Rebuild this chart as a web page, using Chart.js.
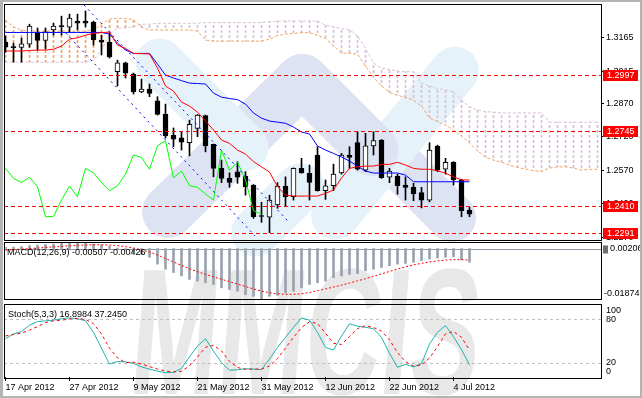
<!DOCTYPE html>
<html>
<head>
<meta charset="utf-8">
<script src="https://cdn.jsdelivr.net/npm/chart.js@4"></script>
<style>
  html, body { margin: 0; padding: 0; background: #fff; }
  #wrap { position: relative; width: 642px; height: 398px; overflow: hidden; background: #fff;
          font-family: "Liberation Sans", Arial, sans-serif; }
  canvas { position: absolute; left: 0; }
  .frame { position: absolute; box-sizing: border-box; border: 1px solid #000; }
  .band { position: absolute; }
  .lbl { position: absolute; font-size: 9px; line-height: 11px; color: #000; white-space: nowrap; }
  #logo { position: absolute; left: 140px; top: 242px; font: bold 180px "Liberation Sans", Arial, sans-serif;
          line-height: 180px; color: #e8e8e8; transform-origin: left top;
          transform: scaleX(0.58) skewX(-8deg); white-space: nowrap; }
  #edge { position: absolute; left: 0; top: 0; width: 642px; height: 398px; box-sizing: border-box;
          border: 2px solid #b4b4b4; border-left-width: 3px; }
</style>
</head>
<body>
<div id="wrap">
  <div id="logo">MMCIS</div>
  <canvas id="main" width="642" height="243" style="top:0"></canvas>
  <canvas id="macd" width="642" height="56" style="top:243px"></canvas>
  <canvas id="stoch" width="642" height="98" style="top:300px"></canvas>
  <div class="frame" style="left:4px;top:4px;width:598px;height:237px"></div>
  <div class="frame" style="left:4px;top:242px;width:598px;height:58px"></div>
  <div class="frame" style="left:4px;top:304px;width:598px;height:75px"></div>
  <div class="lbl" style="left:7px;top:247px">MACD(12,26,9) -0.00507 -0.00426</div>
  <div class="lbl" style="left:8px;top:309px">Stoch(5,3,3) 16.8984 37.2450</div>
  <div id="edge"></div>
</div>
<script>
// daily bars, 17 Apr 2012 .. 6 Jul 2012
const dates = ['17 Apr 2012', '27 Apr 2012', '9 May 2012', '21 May 2012', '31 May 2012', '12 Jun 2012', '22 Jun 2012', '4 Jul 2012'];
const dateBars = [0, 8, 16, 24, 32, 40, 48, 56];

const open = [1.3145, 1.3125, 1.3121, 1.3135, 1.3186, 1.3152, 1.3199, 1.3219, 1.3212, 1.3239,
  1.3239, 1.3234, 1.3154, 1.3145, 1.3012, 1.3052, 1.3001, 1.2922, 1.2934, 1.2882,
  1.2822, 1.2727, 1.2716, 1.2694, 1.2758, 1.2815, 1.2687, 1.2579, 1.2534, 1.2564,
  1.2544, 1.2504, 1.2367, 1.2360, 1.2415, 1.2500, 1.2452, 1.2579, 1.2557, 1.2639,
  1.2479, 1.2501, 1.2559, 1.2639, 1.2695, 1.2571, 1.2680, 1.2706, 1.2539, 1.2544,
  1.2504, 1.2494, 1.2471, 1.2437, 1.2679, 1.2575, 1.2607, 1.2527, 1.2392];
const high = [1.3172, 1.3140, 1.3163, 1.3225, 1.3208, 1.3208, 1.3230, 1.3261, 1.3270, 1.3270,
  1.3284, 1.3239, 1.3176, 1.3185, 1.3064, 1.3055, 1.3006, 1.2979, 1.2957, 1.2900,
  1.2867, 1.2760, 1.2743, 1.2795, 1.2820, 1.2818, 1.2688, 1.2616, 1.2559, 1.2609,
  1.2564, 1.2506, 1.2427, 1.2459, 1.2515, 1.2541, 1.2581, 1.2624, 1.2594, 1.2676,
  1.2527, 1.2598, 1.2646, 1.2676, 1.2743, 1.2736, 1.2743, 1.2708, 1.2579, 1.2553,
  1.2541, 1.2512, 1.2494, 1.2694, 1.2683, 1.2624, 1.2609, 1.2530, 1.2404];
const low = [1.3100, 1.3055, 1.3055, 1.3122, 1.3109, 1.3113, 1.3176, 1.3176, 1.3190, 1.3199,
  1.3212, 1.3131, 1.3087, 1.3073, 1.2948, 1.2984, 1.2912, 1.2918, 1.2900, 1.2818,
  1.2715, 1.2676, 1.2661, 1.2635, 1.2721, 1.2653, 1.2541, 1.2515, 1.2494, 1.2512,
  1.2459, 1.2355, 1.2337, 1.2291, 1.2400, 1.2407, 1.2437, 1.2557, 1.2437, 1.2477,
  1.2440, 1.2479, 1.2553, 1.2579, 1.2571, 1.2564, 1.2639, 1.2534, 1.2515, 1.2463,
  1.2437, 1.2434, 1.2402, 1.2429, 1.2564, 1.2553, 1.2504, 1.2362, 1.2362];
const close = [1.3122, 1.3120, 1.3137, 1.3217, 1.3152, 1.3191, 1.3217, 1.3214, 1.3252, 1.3230,
  1.3230, 1.3154, 1.3145, 1.3078, 1.3052, 1.3005, 1.2922, 1.2934, 1.2915, 1.2821,
  1.2725, 1.2710, 1.2696, 1.2776, 1.2818, 1.2680, 1.2579, 1.2534, 1.2516, 1.2539,
  1.2497, 1.2362, 1.2364, 1.2437, 1.2500, 1.2452, 1.2579, 1.2559, 1.2516, 1.2479,
  1.2501, 1.2553, 1.2639, 1.2628, 1.2575, 1.2680, 1.2703, 1.2537, 1.2567, 1.2501,
  1.2494, 1.2464, 1.2437, 1.2661, 1.2571, 1.2606, 1.2527, 1.2389, 1.2374];

// Ichimoku
const tenkan = [1.3105, 1.3105, 1.3105, 1.3107, 1.3109, 1.3109, 1.3113, 1.3127, 1.3158, 1.3164,
  1.3176, 1.3184, 1.3187, 1.3190, 1.3131, 1.3117, 1.3094, 1.3093, 1.3092, 1.3028,
  1.2948, 1.2925, 1.2876, 1.2858, 1.2831, 1.2791, 1.2751, 1.2706, 1.2691, 1.2661,
  1.2643, 1.2609, 1.2586, 1.2562, 1.2497, 1.2459, 1.2455, 1.2455, 1.2455, 1.2455,
  1.2467, 1.2482, 1.2536, 1.2579, 1.2586, 1.2589, 1.2589, 1.2597, 1.2597, 1.2606,
  1.2594, 1.2579, 1.2575, 1.2575, 1.2568, 1.2557, 1.2541, 1.2527, 1.2527];
const kijun = [1.3188, 1.3188, 1.3188, 1.3188, 1.3188, 1.3188, 1.3188, 1.3188, 1.3188, 1.3188,
  1.3188, 1.3188, 1.3188, 1.3181, 1.3140, 1.3109, 1.3094, 1.3094, 1.3094, 1.3046,
  1.2997, 1.2984, 1.2972, 1.2961, 1.2959, 1.2957, 1.2916, 1.2898, 1.2892, 1.2887,
  1.2867, 1.2827, 1.2804, 1.2791, 1.2786, 1.2781, 1.2764, 1.2742, 1.2733, 1.2679,
  1.2661, 1.2646, 1.2630, 1.2612, 1.2589, 1.2567, 1.2558, 1.2558, 1.2558, 1.2558,
  1.2549, 1.2519, 1.2519, 1.2519, 1.2519, 1.2519, 1.2519, 1.2519, 1.2519];
const spanA = [1.3243, 1.3212, 1.3199, 1.3194, 1.3194, 1.3194, 1.3194, 1.3194, 1.3194, 1.3194,
  1.3194, 1.3199, 1.3225, 1.3248, 1.3251, 1.3251, 1.3246, 1.3212, 1.3199, 1.3199,
  1.3199, 1.3199, 1.3199, 1.3199, 1.3194, 1.3154, 1.3149, 1.3149, 1.3149, 1.3149,
  1.3149, 1.3149, 1.3149, 1.3158, 1.3174, 1.3181, 1.3183, 1.3187, 1.3187, 1.3176,
  1.3161, 1.3127, 1.3096, 1.3094, 1.3091, 1.3037, 1.2988, 1.2948, 1.2919, 1.2907,
  1.2896, 1.2885, 1.2858, 1.2804, 1.2789, 1.2773, 1.2751, 1.2724, 1.2692, 1.2657,
  1.2630, 1.2616, 1.2607, 1.2594, 1.2583, 1.2576, 1.2569, 1.2565, 1.2580, 1.2586,
  1.2586, 1.2580, 1.2571, 1.2574, 1.2575];
const spanB = [1.3055, 1.3055, 1.3055, 1.3055, 1.3055, 1.3055, 1.3055, 1.3055, 1.3055, 1.3055,
  1.3055, 1.3064, 1.3109, 1.3181, 1.3208, 1.3208, 1.3212, 1.3225, 1.3225, 1.3229,
  1.3229, 1.3229, 1.3229, 1.3229, 1.3229, 1.3232, 1.3232, 1.3232, 1.3232, 1.3232,
  1.3232, 1.3232, 1.3232, 1.3236, 1.3239, 1.3239, 1.3239, 1.3239, 1.3239, 1.3239,
  1.3221, 1.3212, 1.3205, 1.3201, 1.3172, 1.3118, 1.3051, 1.3028, 1.3022, 1.3015,
  1.3012, 1.3012, 1.2961, 1.2948, 1.2937, 1.2930, 1.2922, 1.2885, 1.2855, 1.2840,
  1.2833, 1.2831, 1.2827, 1.2827, 1.2827, 1.2827, 1.2827, 1.2827, 1.2786, 1.2786,
  1.2786, 1.2786, 1.2786, 1.2786, 1.2786];

// drawn objects
const priceTicks = [1.3165, 1.3015, 1.2870, 1.2720, 1.2570, 1.2420, 1.2270];
const levels = [1.2997, 1.2745, 1.2410, 1.2291];
const channelLow = [{ x: 7.56, y: 1.3185 }, { x: 31.19, y: 1.2276 }];
const channelHigh = [{ x: 9.81, y: 1.3311 }, { x: 35.44, y: 1.2338 }];

// MACD(12,26,9)
const macdMain = [0.0004, 0.0005, 0.0007, 0.0011, 0.0013, 0.0015, 0.0017, 0.0019, 0.0020, 0.00206,
  0.0020, 0.0017, 0.0013, 0.0008, 0.0002, -0.0006, -0.0014, -0.0022, -0.00325, -0.00578,
  -0.00767, -0.00892, -0.01017, -0.01145, -0.01206, -0.0127, -0.01334, -0.01459, -0.01523, -0.01584,
  -0.01712, -0.01773, -0.01874, -0.01773, -0.01735, -0.01648, -0.01584, -0.01459, -0.01334, -0.0127,
  -0.01206, -0.01081, -0.01017, -0.00956, -0.0093, -0.00828, -0.00767, -0.00703, -0.00639, -0.00578,
  -0.00552, -0.00514, -0.0045, -0.00389, -0.00352, -0.00325, -0.0031, -0.0042, -0.00507];
const macdSignal = [-0.0006, -0.0004, -0.0002, 0.0000, 0.0002, 0.0004, 0.0006, 0.0008, 0.0010, 0.0012,
  0.0013, 0.0014, 0.0014, 0.0013, 0.0011, 0.0007, 0.0002, -0.0005, -0.0013, -0.0024,
  -0.0037, -0.0050, -0.0063, -0.0075, -0.0086, -0.0096, -0.0105, -0.0114, -0.0123, -0.0132,
  -0.0141, -0.0150, -0.0158, -0.0164, -0.0168, -0.0170, -0.0170, -0.0168, -0.0163, -0.0157,
  -0.0150, -0.0143, -0.0136, -0.0128, -0.0120, -0.0112, -0.0103, -0.0094, -0.0085, -0.0076,
  -0.0068, -0.0061, -0.0055, -0.0050, -0.0046, -0.0043, -0.0041, -0.0041, -0.00426];

// Stoch(5,3,3)
const stochMain = [53, 60, 63, 72, 77, 78, 79, 81, 82, 81,
  78, 62, 40, 18, 21.5, 21, 19, 14, 11, 8,
  6, 6.5, 12, 28, 43, 53, 36, 20, 9.5, 10,
  11.7, 11, 10.3, 25, 41, 55, 69, 82, 79, 62,
  41, 37.5, 57, 74, 70.5, 69, 67, 55, 33, 13.5,
  17.7, 14, 18.5, 46, 62, 71.5, 56, 38, 16.8984];
const stochSignal = [57, 59, 61, 65, 70, 75.5, 78, 79, 80.5, 81.5,
  80, 74, 60, 40, 26.5, 20, 20.5, 18, 14.5, 11,
  8.3, 7, 8, 15.5, 27.7, 41.3, 44, 36.3, 21.8, 13.2,
  10.4, 10.9, 11, 15.4, 25.4, 40.3, 55, 68.7, 76.7, 74.3,
  60.7, 46.8, 45.2, 56.2, 67.2, 71.2, 68.8, 63.7, 51.7, 33.8,
  21.4, 15.1, 16.7, 26.2, 42.2, 59.8, 63.2, 55.2, 37.245];
const stochLevels = [80, 20];

// watermark pieces: x1, y1, x2, y2, width, colour
const LV = '#dde3f2', LB = '#e6f2fa';
const bands = [
  [160, 62, 245, 147, 48, LB],
  [168, 212, 302, 80, 52, LV],
  [302, 80, 372, 150, 52, LV],
  [255, 232, 300, 187, 48, LB],
  [335, 215, 455, 70, 48, LB],
  [395, 160, 452, 217, 48, LV]
];
const wrap = document.getElementById('wrap');
bands.forEach(([x1, y1, x2, y2, w, col]) => {
  const len = Math.hypot(x2 - x1, y2 - y1) + w;
  const d = document.createElement('div');
  d.className = 'band';
  d.style.cssText = `left:${(x1 + x2) / 2 - len / 2}px;top:${(y1 + y2) / 2 - w / 2}px;width:${len}px;height:${w}px;` +
    `border-radius:${w / 2}px;background:${col};transform:rotate(${Math.atan2(y2 - y1, x2 - x1)}rad)`;
  wrap.insertBefore(d, wrap.firstChild);
});

Chart.defaults.font.family = '"Liberation Sans", Arial, sans-serif';
Chart.defaults.font.size = 9;
Chart.defaults.color = '#000';

const xMin = -0.1875, xMax = 74.4375;
const pts = (arr) => arr.map((v, i) => ({ x: i, y: v }));
const line = (data, color, order, dash) => ({
  type: 'line', data, borderColor: color, borderWidth: 1, borderDash: dash || [],
  pointRadius: 0, tension: 0, fill: false, order
});
const base = {
  animation: false, responsive: false, events: [],
  plugins: { legend: { display: false }, tooltip: { enabled: false } }
};

const mctx = document.getElementById('main').getContext('2d');
function hatch(color) {
  const c = document.createElement('canvas');
  c.width = 1; c.height = 5;
  const g = c.getContext('2d');
  g.fillStyle = color;
  g.fillRect(0, 0, 1, 3);
  return mctx.createPattern(c, 'repeat');
}
const cloudUp = [], cloudDn = [];
spanA.forEach((a, i) => {
  const b = spanB[i];
  (a >= b ? cloudUp : cloudDn).push({ x: i, y: [Math.min(a, b), Math.max(a, b)] });
});

const levelPlugin = {
  id: 'levels',
  afterDatasetsDraw(chart) {
    const { ctx, chartArea: a, scales: { y } } = chart;
    ctx.save();
    ctx.strokeStyle = '#ff0000';
    ctx.lineWidth = 1;
    ctx.setLineDash([4, 3]);
    levels.forEach(v => {
      const py = Math.round(y.getPixelForValue(v)) + 0.5;
      ctx.beginPath(); ctx.moveTo(a.left, py); ctx.lineTo(a.right, py); ctx.stroke();
    });
    ctx.restore();
  },
  afterDraw(chart) {
    const { ctx, chartArea: a, scales: { y } } = chart;
    ctx.save();
    ctx.font = '9px "Liberation Sans", Arial, sans-serif';
    ctx.textBaseline = 'middle';
    levels.forEach(v => {
      const py = Math.round(y.getPixelForValue(v));
      ctx.fillStyle = '#ff0000';
      ctx.fillRect(a.right + 2, py - 5, 35, 11);
      ctx.fillStyle = '#fff';
      ctx.fillText(v.toFixed(4), a.right + 6, py + 0.5);
    });
    ctx.restore();
  }
};

new Chart(mctx, {
  type: 'bar',
  data: {
    datasets: [
      { type: 'bar', data: cloudUp, backgroundColor: hatch('#f4a460'), barThickness: 1, grouped: false, borderWidth: 0, order: 20 },
      { type: 'bar', data: cloudDn, backgroundColor: hatch('#d8bfd8'), barThickness: 1, grouped: false, borderWidth: 0, order: 20 },
      line(pts(spanA), '#f4a460', 19, [3, 2]),
      line(pts(spanB), '#d8bfd8', 19, [3, 2]),
      { type: 'bar', data: low.map((l, i) => ({ x: i, y: [l, high[i]] })), backgroundColor: '#000',
        barThickness: 1, grouped: false, borderWidth: 0, order: 15 },
      { type: 'bar', data: open.map((o, i) => ({ x: i, y: [o, close[i]] })),
        backgroundColor: open.map((o, i) => close[i] > o ? '#fff' : '#000'),
        borderColor: '#000', borderWidth: 1, borderSkipped: false, barThickness: 5, grouped: false, order: 14 },
      line(pts(close.slice(26)), '#00ff00', 12),
      line(pts(tenkan), '#ff0000', 11),
      line(pts(kijun), '#0000ff', 11),
      line(channelLow, '#0000ff', 1, [2, 4]),
      line(channelHigh, '#0000ff', 1, [2, 4])
    ]
  },
  options: {
    ...base,
    layout: { padding: { left: 4, top: 5, bottom: 3, right: 0 } },
    scales: {
      x: { type: 'linear', min: xMin, max: xMax, offset: false, display: false },
      y: {
        position: 'right', min: 1.2258, max: 1.3311,
        afterBuildTicks: s => { s.ticks = priceTicks.map(v => ({ value: v })); },
        afterFit: s => { s.width = 41; s.paddingTop = 0; s.paddingBottom = 0; },
        ticks: { autoSkip: false, padding: 2, callback: v => v.toFixed(4) },
        grid: { drawOnChartArea: false, tickLength: 3, color: '#000' },
        border: { display: false }
      }
    }
  },
  plugins: [levelPlugin]
});

function sideLabels(labels) {
  return {
    id: 'side',
    afterDraw(chart) {
      const { ctx, chartArea: a, scales: { y } } = chart;
      ctx.save();
      ctx.font = '9px "Liberation Sans", Arial, sans-serif';
      ctx.textBaseline = 'middle';
      ctx.fillStyle = '#000';
      labels.forEach(([v, txt, dx]) => {
        const py = Math.min(Math.max(y.getPixelForValue(v), a.top + 6), a.bottom - 5);
        ctx.fillText(txt, a.right + dx, py);
      });
      ctx.restore();
    }
  };
}

const macdPlugin = {
  id: 'macdZero',
  beforeDatasetsDraw(chart) {
    const { ctx, chartArea: a, scales: { y } } = chart;
    const py = Math.round(y.getPixelForValue(0)) + 0.5;
    ctx.save();
    ctx.strokeStyle = '#8e98a2';
    ctx.beginPath(); ctx.moveTo(a.left, py); ctx.lineTo(a.right, py); ctx.stroke();
    ctx.fillStyle = '#6f6f6f';
    ctx.fillRect(a.right + 2, py - 4, 5, 8);
    ctx.restore();
  }
};

new Chart(document.getElementById('macd'), {
  type: 'bar',
  data: {
    datasets: [
      { type: 'bar', data: pts(macdMain), backgroundColor: '#9aa3ad', barThickness: 2, grouped: false, order: 2 },
      line(pts(macdSignal), '#ff0000', 1, [2, 2])
    ]
  },
  options: {
    ...base,
    layout: { padding: { left: 4, right: 41, top: 0, bottom: 0 } },
    scales: {
      x: { type: 'linear', min: xMin, max: xMax, offset: false, display: false },
      y: { min: -0.01874, max: 0.00206, display: false }
    }
  },
  plugins: [macdPlugin, sideLabels([[0.00206, '0.00206', 9], [-0.01874, '-0.01874', 3]])]
});

const stochPlugin = {
  id: 'stochLevels',
  beforeDatasetsDraw(chart) {
    const { ctx, chartArea: a, scales: { y } } = chart;
    ctx.save();
    ctx.strokeStyle = '#c0c0c0';
    ctx.setLineDash([3, 3]);
    stochLevels.forEach(v => {
      const py = Math.round(y.getPixelForValue(v)) + 0.5;
      ctx.beginPath(); ctx.moveTo(a.left, py); ctx.lineTo(a.right, py); ctx.stroke();
    });
    ctx.restore();
  }
};

new Chart(document.getElementById('stoch'), {
  type: 'line',
  data: {
    datasets: [
      line(pts(stochMain), '#20b2aa', 2),
      line(pts(stochSignal), '#ff0000', 1, [3, 3])
    ]
  },
  options: {
    ...base,
    layout: { padding: { left: 4, right: 41, top: 5, bottom: 0 } },
    scales: {
      x: {
        type: 'linear', min: xMin, max: xMax, offset: false,
        afterBuildTicks: s => { s.ticks = dateBars.map(v => ({ value: v })); },
        afterFit: s => { s.height = 21; s.paddingLeft = 0; s.paddingRight = 0; },
        ticks: { autoSkip: false, maxRotation: 0, align: 'start', padding: 1,
                 callback: v => dates[dateBars.indexOf(v)] },
        grid: { drawOnChartArea: false, tickLength: 4, color: '#000' },
        border: { display: false }
      },
      y: { min: 0, max: 100, display: false }
    }
  },
  plugins: [stochPlugin, sideLabels([[100, '100', 5], [80, '80', 5], [20, '20', 5], [0, '0', 5]])]
});
</script>
</body>
</html>
